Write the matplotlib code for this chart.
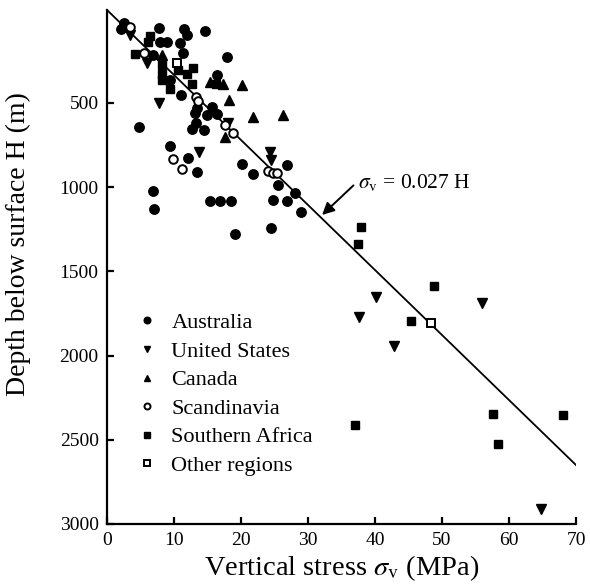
import matplotlib
matplotlib.use("Agg")
import matplotlib.pyplot as plt

plt.rcParams["font.family"] = ["Liberation Serif", "DejaVu Serif"]
plt.rcParams["mathtext.fontset"] = "stix"

# vertical stress (MPa) and depth (m)
aus_s = [2.1, 2.5, 7.8, 11.5, 11.9, 14.6, 7.9, 9.0, 10.9, 11.3, 17.9, 16.4, 9.4,
         6.9, 11.0, 13.4, 13.1, 15.7, 14.9, 16.4, 4.8, 13.3, 12.7, 14.5, 9.4,
         12.1, 13.4, 20.2, 21.8, 26.9, 25.5, 28.1, 29.0, 6.9, 7.0, 15.4, 16.9,
         18.5, 24.8, 26.9, 19.1, 24.5]
aus_h = [61, 25, 55, 61, 96, 72, 138, 138, 144, 203, 227, 334, 363,
         215, 452, 530, 559, 524, 571, 565, 643, 619, 654, 660, 755,
         827, 910, 862, 922, 868, 987, 1034, 1147, 1023, 1129, 1082, 1082,
         1082, 1076, 1082, 1278, 1242]

us_s = [3.4, 6.0, 7.8, 13.7, 18.1, 24.3, 24.5, 40.2, 37.6, 42.8, 56.0, 64.8]
us_h = [96, 262, 500, 791, 619, 791, 838, 1652, 1771, 1943, 1688, 2911]

can_s = [8.2, 15.4, 17.3, 20.2, 18.2, 21.8, 26.3, 17.6]
can_h = [215, 375, 387, 393, 482, 583, 571, 702]

scan_s = [3.4, 5.5, 13.3, 13.6, 17.6, 18.8, 9.9, 11.2, 24.0, 24.8, 25.4]
scan_h = [49, 203, 464, 488, 631, 678, 833, 892, 904, 916, 916]

saf_s = [6.4, 6.1, 4.2, 8.2, 8.2, 8.2, 9.4, 10.6, 11.9, 12.8, 12.7, 16.3,
         37.9, 37.5, 48.8, 45.4, 37.0, 57.6, 58.4, 68.1]
saf_h = [102, 138, 209, 274, 328, 363, 417, 304, 328, 292, 387, 387,
         1236, 1337, 1587, 1794, 2412, 2347, 2525, 2353]

oth_s = [10.5, 48.4]
oth_h = [262, 1806]

# trend line as drawn
line_s = [0, 70]
line_h = [-52, 2650]

fig = plt.figure(figsize=(5.9, 5.85), dpi=100)
ax = fig.add_axes([0.1814, 0.1043, 0.7949, 0.8786])

ax.plot(line_s, line_h, color="black", lw=1.3, zorder=1)

ms = 6.8
ax.plot(aus_s, aus_h, "o", color="black", ms=ms, ls="none", label="Australia")
ax.plot(us_s, us_h, "v", color="black", ms=ms, ls="none", label="United States")
ax.plot(can_s, can_h, "^", color="black", ms=ms, ls="none", label="Canada")
ax.plot(scan_s, scan_h, "o", mfc="white", mec="black", mew=1.4, ms=6.2,
        ls="none", label="Scandinavia")
ax.plot(saf_s, saf_h, "s", color="black", ms=6.4, ls="none", label="Southern Africa")
ax.plot(oth_s, oth_h, "s", mfc="white", mec="black", mew=1.4, ms=6.2,
        ls="none", label="Other regions")

ax.set_xlim(0, 70)
ax.set_ylim(3000, -52)
ax.set_xticks(range(0, 71, 10))
ax.set_yticks(range(500, 3001, 500))

for side in ["top", "right"]:
    ax.spines[side].set_visible(False)
for side in ["left", "bottom"]:
    ax.spines[side].set_linewidth(1.6)
ax.tick_params(direction="in", length=5, width=1.6, labelsize=14, pad=6)

ax.set_xlabel(r"Vertical stress $\sigma_{\rm v}$ (MPa)", fontsize=20.5, labelpad=3)
ax.set_ylabel("Depth below surface H (m)", fontsize=20)
ax.yaxis.set_label_coords(-0.162, 0.545)

ax.annotate(r"$\sigma_{\rm v}$ = 0.027 H", xy=(32.1, 1165), xytext=(37.5, 975),
            fontsize=15.5, ha="left", va="center",
            arrowprops=dict(arrowstyle="-|>", color="black", lw=1.4,
                            mutation_scale=18, shrinkA=2, shrinkB=0,
                            relpos=(0, 0.6)))

ax.legend(loc="upper left", bbox_to_anchor=(0.014, 0.45), frameon=False,
          fontsize=16, markerscale=0.7, handletextpad=0.5, labelspacing=0.36,
          handlelength=1.2)

fig.savefig("out.png", dpi=100)
